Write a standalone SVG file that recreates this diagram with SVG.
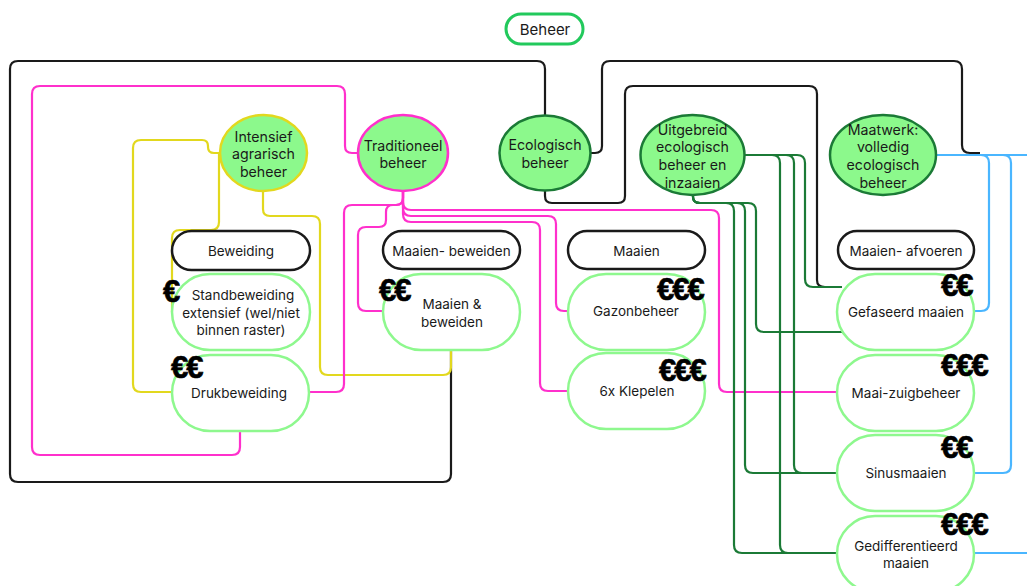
<svg xmlns="http://www.w3.org/2000/svg" width="1027" height="586" viewBox="0 0 1027 586">
<style>
  .t{font-family:Inter,"Noto Sans","Liberation Sans",sans-serif;font-size:13.5px;fill:#1a1a1a;text-anchor:middle;dominant-baseline:central}
  .tb{font-size:14.2px}
  .eur{font-family:"Liberation Sans",Arial,sans-serif;font-weight:bold;font-size:31px;fill:#000;letter-spacing:-2px;stroke:#000;stroke-width:0.6}
  .c{fill:none;stroke-width:2.2;stroke-linejoin:round}
  .bk{stroke:#1a1a1a}
  .mg{stroke:#ff30cc}
  .ye{stroke:#e2d81e}
  .dg{stroke:#1b7a36}
  .bl{stroke:#4ab6ff}
  .cat{fill:#fff;stroke:#1a1a1a;stroke-width:2.5}
  .leaf{fill:#fff;stroke:#8ef88e;stroke-width:2.5}
  .ell{fill:#8cf98c;stroke-width:2.5}
</style>
<rect width="1027" height="586" fill="#fff"/>
<g id="connectors">
  <path class="c bk" d="M545,115 V69 Q545,61 537,61 H18 Q10,61 10,69 V474 Q10,482 18,482 H443 Q451,482 451,474 V351"/>
  <path class="c bk" d="M590,153 H595 Q602,153 602,146 V69 Q602,61 610,61 H954 Q962,61 962,69 V145 Q962,153 970,153 H980"/>
  <path class="c bk" d="M545,190 V196 Q545,203 552,203 H618 Q625,203 625,196 V94 Q625,86 633,86 H809 Q817,86 817,94 V280 Q817,287 825,287 H842"/>
  <path class="c ye" d="M220,153 H214 Q208,153 208,147 V146 Q208,140 202,140 H141 Q133,140 133,148 V384 Q133,392 141,392 H172"/>
  <path class="c ye" d="M219,153 V222 Q219,230 211,230 H180 Q172,230 172,238 V312"/>
  <path class="c ye" d="M263,191 V209 Q263,216 270,216 H312 Q320,216 320,224 V367 Q320,375 328,375 H443 Q451,375 451,367 V351"/>
  <path class="c mg" d="M358,153 H352 Q345,153 345,146 V94 Q345,86 337,86 H40 Q32,86 32,94 V447 Q32,455 40,455 H232 Q240,455 240,447 V431"/>
  <path class="c mg" d="M403,191 V198 Q403,205 396,205 H352 Q344,205 344,213 V384 Q344,392 336,392 H308"/>
  <path class="c mg" d="M403,191 V198 Q403,205 396,205 H393 Q386,205 386,212 V220 Q386,227 379,227 H366 Q358,227 358,235 V303 Q358,311 366,311 H383"/>
  <path class="c mg" d="M403,191 V202 Q403,210 411,210 H711 Q719,210 719,218 V384 Q719,392 727,392 H837"/>
  <path class="c mg" d="M403,191 V208 Q403,216 411,216 H548 Q556,216 556,224 V303 Q556,311 564,311 H568"/>
  <path class="c mg" d="M403,191 V214 Q403,222 411,222 H532 Q540,222 540,230 V383 Q540,391 548,391 H568"/>
  <path class="c dg" d="M693,195 V197 Q693,203 700,203 H726 Q734,203 734,211 V545 Q734,553 742,553 H837"/>
  <path class="c dg" d="M693,195 V197 Q693,203 700,203 H737 Q745,203 745,211 V465 Q745,473 753,473 H837"/>
  <path class="c dg" d="M693,195 V197 Q693,203 700,203 H748 Q756,203 756,211 V324 Q756,332 764,332 H843"/>
  <path class="c dg" d="M745,155 H772 Q780,155 780,163 V545 Q780,553 788,553 H837"/>
  <path class="c dg" d="M745,155 H786 Q794,155 794,163 V465 Q794,473 802,473 H837"/>
  <path class="c dg" d="M745,155 H797 Q805,155 805,163 V279 Q805,287 813,287 H842"/>
  <path class="c bl" d="M936,155 H981 Q989,155 989,163 V303 Q989,311 981,311 H974"/>
  <path class="c bl" d="M936,155 H1003 Q1011,155 1011,163 V465 Q1011,473 1003,473 H974"/>
  <path class="c bl" d="M936,155 H1027"/>
  <path class="c bl" d="M974,553 H1027"/>
</g>
<g id="beheer">
  <rect x="506" y="14" width="77" height="30" rx="15" fill="#fff" stroke="#22c95c" stroke-width="3"/>
  <text class="t" x="545" y="29" style="font-size:15px">Beheer</text>
</g>
<g id="intensief">
  <ellipse class="ell" cx="263.5" cy="153" rx="43.5" ry="38" stroke="#e2d81e"/>
  <text class="t tb" x="263.5" y="136">Intensief</text>
  <text class="t tb" x="263.5" y="153.5">agrarisch</text>
  <text class="t tb" x="263.5" y="171">beheer</text>
</g>
<g id="traditioneel">
  <ellipse class="ell" cx="403" cy="153" rx="45" ry="38" stroke="#ff30cc"/>
  <text class="t tb" x="403" y="145">Traditioneel</text>
  <text class="t tb" x="403" y="162.5">beheer</text>
</g>
<g id="ecologisch">
  <ellipse class="ell" cx="545" cy="153" rx="45.5" ry="37.5" stroke="#1b7a36"/>
  <text class="t tb" x="545" y="144.5">Ecologisch</text>
  <text class="t tb" x="545" y="162">beheer</text>
</g>
<g id="uitgebreid">
  <ellipse class="ell" cx="692.5" cy="155" rx="52" ry="40" stroke="#1b7a36"/>
  <text class="t tb" x="692.5" y="129">Uitgebreid</text>
  <text class="t tb" x="692.5" y="146.5">ecologisch</text>
  <text class="t tb" x="692.5" y="164">beheer en</text>
  <text class="t tb" x="692.5" y="182">inzaaien</text>
</g>
<g id="maatwerk">
  <ellipse class="ell" cx="883" cy="155" rx="53" ry="40" stroke="#1b7a36"/>
  <text class="t tb" x="883" y="129">Maatwerk:</text>
  <text class="t tb" x="883" y="146.5">volledig</text>
  <text class="t tb" x="883" y="164">ecologisch</text>
  <text class="t tb" x="883" y="182">beheer</text>
</g>
<g id="cat-beweiding">
  <rect class="cat" x="172" y="231" width="138" height="39" rx="19.5"/>
  <text class="t" x="241" y="251">Beweiding</text>
</g>
<g id="cat-maaien-beweiden">
  <rect class="cat" x="383" y="231" width="137" height="38" rx="19"/>
  <text class="t" x="451.5" y="251">Maaien- beweiden</text>
</g>
<g id="cat-maaien">
  <rect class="cat" x="568" y="231" width="137" height="38" rx="19"/>
  <text class="t" x="636.5" y="250.5">Maaien</text>
</g>
<g id="cat-maaien-afvoeren">
  <rect class="cat" x="838" y="231" width="136" height="38" rx="19"/>
  <text class="t" x="906" y="251">Maaien- afvoeren</text>
</g>
<g id="standbeweiding">
  <rect class="leaf" x="172" y="274" width="138" height="76" rx="38"/>
  <text class="t" x="243" y="295">Standbeweiding</text>
  <text class="t" x="241" y="313">extensief (wel/niet</text>
  <text class="t" x="241" y="330">binnen raster)</text>
  <text class="eur" x="163" y="302">€</text>
</g>
<g id="drukbeweiding">
  <rect class="leaf" x="172" y="355" width="137" height="76" rx="38"/>
  <text class="t" x="239" y="393">Drukbeweiding</text>
  <text class="eur" x="171" y="378">€€</text>
</g>
<g id="maaien-beweiden">
  <rect class="leaf" x="383" y="274" width="137" height="76" rx="38"/>
  <text class="t" x="452" y="304">Maaien &amp;</text>
  <text class="t" x="452" y="322">beweiden</text>
  <text class="eur" x="379" y="301">€€</text>
</g>
<g id="gazonbeheer">
  <rect class="leaf" x="568" y="274" width="137" height="76" rx="38"/>
  <text class="t" x="636" y="311">Gazonbeheer</text>
  <text class="eur" x="657" y="300">€€€</text>
</g>
<g id="klepelen">
  <rect class="leaf" x="568" y="353" width="137" height="76" rx="38"/>
  <text class="t" x="637" y="391">6x Klepelen</text>
  <text class="eur" x="659" y="381">€€€</text>
</g>
<g id="gefaseerd">
  <rect class="leaf" x="837" y="274" width="137" height="76" rx="38"/>
  <text class="t" x="906" y="312">Gefaseerd maaien</text>
  <text class="eur" x="941" y="296">€€</text>
</g>
<g id="maaizuig">
  <rect class="leaf" x="837" y="355" width="137" height="76" rx="38"/>
  <text class="t" x="906" y="393">Maai-zuigbeheer</text>
  <text class="eur" x="941" y="376">€€€</text>
</g>
<g id="sinusmaaien">
  <rect class="leaf" x="837" y="435" width="137" height="76" rx="38"/>
  <text class="t" x="906" y="473">Sinusmaaien</text>
  <text class="eur" x="941" y="458">€€</text>
</g>
<g id="gedifferentieerd">
  <rect class="leaf" x="837" y="516" width="137" height="76" rx="38"/>
  <text class="t" x="906" y="546">Gedifferentieerd</text>
  <text class="t" x="906" y="563">maaien</text>
  <text class="eur" x="941" y="535">€€€</text>
</g>
</svg>
